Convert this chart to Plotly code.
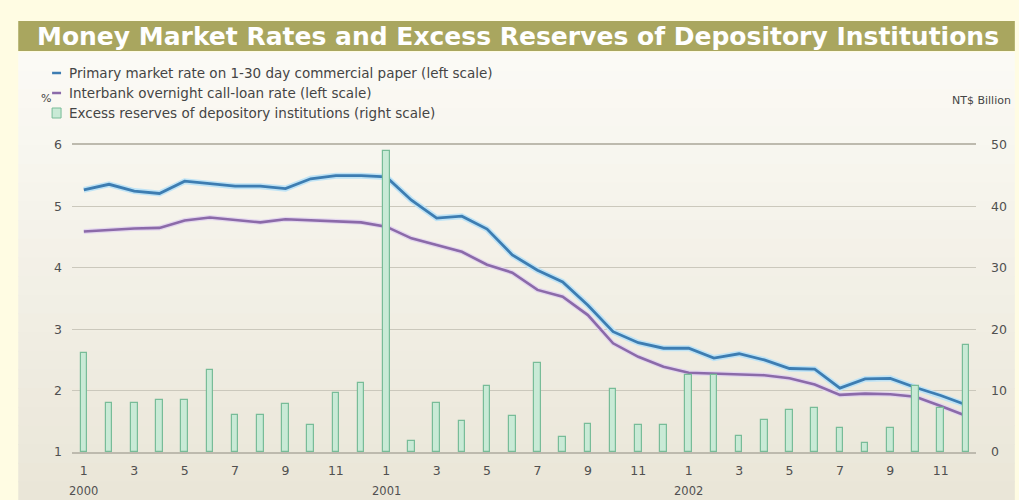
import plotly.graph_objects as go

# ---------------- data ----------------
months = list(range(36))  # Jan 2000 .. Dec 2002
month_labels = ["1", "3", "5", "7", "9", "11"] * 3
year_labels = ["2000", "2001", "2002"]

cp_rate = [5.27, 5.36, 5.25, 5.21, 5.41, 5.37, 5.33, 5.33, 5.29, 5.45, 5.50, 5.50,
           5.48, 5.10, 4.81, 4.84, 4.63, 4.21, 3.96, 3.77, 3.39, 2.96, 2.78, 2.69,
           2.69, 2.53, 2.60, 2.50, 2.36, 2.35, 2.04, 2.19, 2.20, 2.05, 1.92, 1.77]
call_rate = [4.59, 4.62, 4.64, 4.65, 4.77, 4.82, 4.78, 4.74, 4.79, 4.77, 4.76, 4.74,
             4.67, 4.48, 4.37, 4.26, 4.05, 3.92, 3.64, 3.53, 3.23, 2.77, 2.55, 2.39,
             2.29, 2.28, 2.27, 2.25, 2.20, 2.10, 1.93, 1.95, 1.94, 1.90, 1.75, 1.59]
excess_reserves = [16.1, 8.0, 8.0, 8.5, 8.5, 13.4, 6.0, 6.0, 7.8, 4.4, 9.6, 11.2,
                   49.0, 1.8, 8.0, 5.0, 10.7, 5.9, 14.5, 2.4, 4.6, 10.3, 4.4, 4.4,
                   12.5, 12.5, 2.6, 5.2, 6.8, 7.2, 3.9, 1.5, 3.9, 10.7, 7.2, 17.4]

legend_texts = [
    "Primary market rate on 1-30 day commercial paper (left scale)",
    "Interbank overnight call-loan rate (left scale)",
    "Excess reserves of depository institutions (right scale)",
]
title_text = "Money Market Rates and Excess Reserves of Depository Institutions"

BLUE = "#3d7db2"
PURPLE = "#8b6aa9"
BAR_FILL = "#c9ead6"
BAR_LINE = "#78bc98"
FONT = "DejaVu Sans"
W, H = 1019, 500
ML, MR, MT, MB = 72, 39, 145, 48
PW, PH = W - ML - MR, H - MT - MB


def px_x(x):
    return (x - ML) / PW


def px_y(y):
    return (H - MB - y) / PH


fig = go.Figure()

fig.add_trace(go.Bar(
    x=months, y=excess_reserves, yaxis="y2", width=0.26,
    marker=dict(color=BAR_FILL, line=dict(color=BAR_LINE, width=1.2)),
    name=legend_texts[2], showlegend=False,
))
fig.add_trace(go.Scatter(
    x=months, y=cp_rate, mode="lines", line=dict(color="#bfe3f5", width=6),
    showlegend=False, hoverinfo="skip",
))
fig.add_trace(go.Scatter(
    x=months, y=cp_rate, mode="lines", line=dict(color=BLUE, width=2.8),
    name=legend_texts[0], showlegend=False,
))
fig.add_trace(go.Scatter(
    x=months, y=call_rate, mode="lines", line=dict(color="#e3d6ee", width=5),
    showlegend=False, hoverinfo="skip",
))
fig.add_trace(go.Scatter(
    x=months, y=call_rate, mode="lines", line=dict(color=PURPLE, width=2.6),
    name=legend_texts[1], showlegend=False,
))

shapes = []
# chart panel with vertical gradient (bands)
top_px, bot_px = 52, 500
n = 24
c0 = (251, 250, 245)
c1 = (234, 230, 216)
for i in range(n):
    t = i / (n - 1)
    col = tuple(round(c0[k] + (c1[k] - c0[k]) * t) for k in range(3))
    y0 = top_px + (bot_px - top_px) * i / n
    y1 = top_px + (bot_px - top_px) * (i + 1) / n + 1
    shapes.append(dict(type="rect", xref="paper", yref="paper",
                       x0=px_x(18), x1=px_x(W), y0=px_y(y1), y1=px_y(y0),
                       fillcolor="rgb(%d,%d,%d)" % col, line=dict(width=0), layer="below"))
# title bar
shapes.append(dict(type="rect", xref="paper", yref="paper",
                   x0=px_x(18), x1=px_x(W), y0=px_y(51), y1=px_y(21),
                   fillcolor="#a9a65f", line=dict(width=0), layer="below"))
# legend swatches
leg_y = [73, 93, 113]
for yy, c in zip(leg_y[:2], [BLUE, PURPLE]):
    shapes.append(dict(type="line", xref="paper", yref="paper",
                       x0=px_x(52), x1=px_x(61), y0=px_y(yy), y1=px_y(yy),
                       line=dict(color=c, width=2.5)))
shapes.append(dict(type="rect", xref="paper", yref="paper",
                   x0=px_x(52), x1=px_x(61), y0=px_y(118), y1=px_y(108),
                   fillcolor=BAR_FILL, line=dict(color=BAR_LINE, width=1)))

annotations = []
annotations.append(dict(text="<b>" + title_text + "</b>", xref="paper", yref="paper",
                        x=px_x(520), y=px_y(36),
                        xanchor="center", yanchor="middle", showarrow=False,
                        font=dict(family=FONT, size=25, color="white")))
for txt, yy in zip(legend_texts, leg_y):
    annotations.append(dict(text=txt, xref="paper", yref="paper",
                            x=px_x(67), y=px_y(yy),
                            xanchor="left", yanchor="middle", showarrow=False,
                            font=dict(family=FONT, size=13.5, color="#454545")))
annotations.append(dict(text="%", xref="paper", yref="paper",
                        x=px_x(46), y=px_y(99),
                        xanchor="center", yanchor="middle", showarrow=False,
                        font=dict(family=FONT, size=11, color="#454545")))
annotations.append(dict(text="NT$ Billion", xref="paper", yref="paper",
                        x=px_x(1017), y=px_y(101),
                        xanchor="right", yanchor="middle", showarrow=False,
                        font=dict(family=FONT, size=11, color="#454545")))
for i, yl in enumerate(year_labels):
    annotations.append(dict(text=yl, xref="x", yref="paper", x=months[i * 12],
                            y=px_y(491),
                            xanchor="center", yanchor="middle", showarrow=False,
                            font=dict(family=FONT, size=11.5, color="#505050")))

fig.update_layout(
    width=W, height=H,
    margin=dict(l=ML, r=MR, t=MT, b=MB, pad=0),
    paper_bgcolor="#fffce3",
    plot_bgcolor="rgba(0,0,0,0)",
    shapes=shapes, annotations=annotations,
    showlegend=False,
    bargap=0,
    xaxis=dict(range=[-0.47, 35.4], tickvals=months[::2], ticktext=month_labels,
               showgrid=False, zeroline=False, showline=True, linecolor="#bdbaae",
               linewidth=1.5, mirror=True, ticks="", ticklabelstandoff=6,
               tickfont=dict(family=FONT, size=12.5, color="#505050")),
    yaxis=dict(range=[1, 6], dtick=1, showgrid=True, gridcolor="#cbc8bc", gridwidth=1.3,
               zeroline=False, showline=False, ticks="", ticklabelstandoff=9,
               tickfont=dict(family=FONT, size=12.5, color="#505050")),
    yaxis2=dict(range=[0, 50], dtick=10, overlaying="y", side="right", showgrid=False,
                zeroline=False, showline=False, ticks="", ticklabelstandoff=14,
                tickfont=dict(family=FONT, size=12.5, color="#505050")),
)

fig.write_html("out.html")
